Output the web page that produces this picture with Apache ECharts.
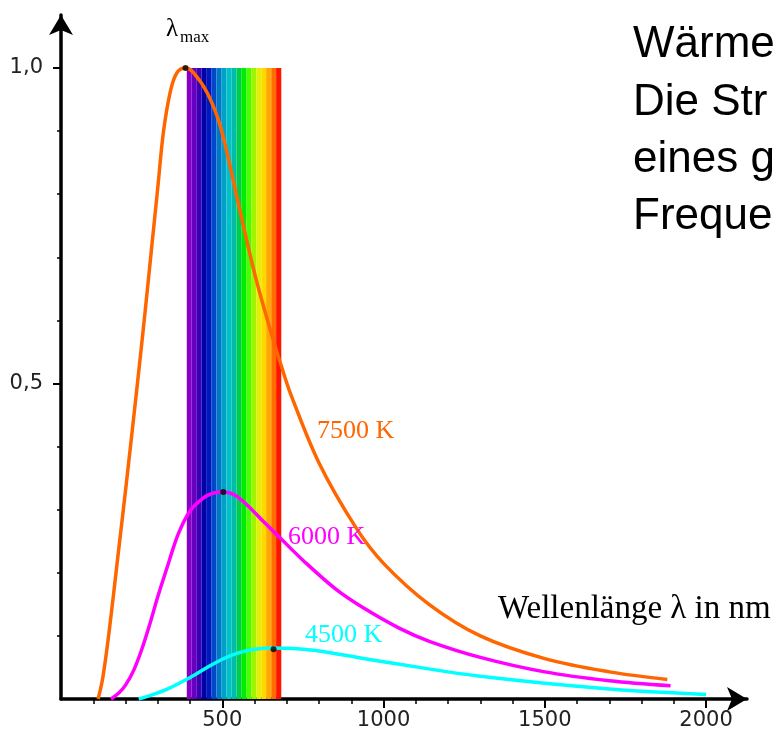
<!DOCTYPE html>
<html>
<head>
<meta charset="utf-8">
<script src="https://cdn.jsdelivr.net/npm/echarts@6/dist/echarts.min.js"></script>
<style>
html,body{margin:0;padding:0;background:#fff;}
#chart{width:779px;height:740px;}
</style>
</head>
<body>
<div id="chart"></div>
<script>
// ---- data ----
const lambda7500 = [115,130,150,175,200,237,260,280,300,318,340,360,386,410,454,495,550,600,650,683,713,800,914,1000,1141,1300,1500,1700,1880];
const int7500    = [0,0.035,0.11,0.22,0.33,0.50,0.61,0.71,0.81,0.90,0.965,0.993,1.0,0.993,0.96,0.906,0.785,0.675,0.583,0.528,0.482,0.374,0.272,0.215,0.150,0.100,0.064,0.043,0.031];

const lambda6000 = [155,180,200,225,250,275,300,330,364,400,440,470,503,540,580,630,676,750,850,936,1050,1144,1300,1500,1700,1890];
const int6000    = [0,0.01,0.022,0.045,0.078,0.118,0.162,0.21,0.262,0.298,0.318,0.326,0.328,0.323,0.306,0.28,0.257,0.22,0.175,0.145,0.112,0.091,0.066,0.043,0.029,0.021];

const lambda4500 = [241,280,331,393,450,500,550,600,659,720,800,929,1050,1200,1300,1500,1700,1850,2000];
const int4500    = [0,0.006,0.016,0.032,0.049,0.063,0.073,0.079,0.081,0.080,0.076,0.065,0.055,0.043,0.036,0.025,0.016,0.011,0.007];

const peakLambda = [386, 503, 659];
const peakValue  = [1.0, 0.328, 0.079];

// visible spectrum stripes (wavelength edges in nm) and their colours
const bandEdges  = [390,405,421,436,452,467,482,498,513,529,544,559,575,590,606,621,636,652,667,683];
const bandColors = ['#8800c8','#6600c0','#3c00b4','#0000a8','#0018c0','#0048c8','#0078c8','#00a0c8','#00c0c8','#00bca8','#00cc50','#00ec00','#48ff00','#a0f400','#e0f000','#ffd800','#ffa800','#ff6c00','#ff1400'];
const bandTop = 1.0;

const xMajorTicks = [500,1000,1500,2000];
const xMinorTicks = [100,200,300,400,600,700,800,900,1100,1200,1300,1400,1600,1700,1800,1900];
const yMajorTicks = [0.5,1.0];
const yMinorTicks = [0.1,0.2,0.3,0.4,0.6,0.7,0.8,0.9];

const xMax = 2127, yMax = 1.084;

// ---- build ----
const pairs = (xs, ys) => xs.map((x, i) => [x, ys[i]]);
const bandAreas = bandColors.map((c, i) => [
  { xAxis: bandEdges[i], yAxis: 0, itemStyle: { color: c } },
  { xAxis: bandEdges[i + 1], yAxis: bandTop }
]);

const serif = '"Liberation Serif", "DejaVu Serif", serif';
const sans = '"Liberation Sans", Arial, sans-serif';
const tickFont = '"DejaVu Sans", sans-serif';

const chart = echarts.init(document.getElementById('chart'), null, { renderer: 'canvas' });

const axisLineStyle = { color: '#000', width: 3.5 };

chart.setOption({
  backgroundColor: '#fff',
  animation: false,
  grid: { left: 61, right: 32, top: 15, bottom: 41, containLabel: false },
  xAxis: [
    {
      type: 'value', min: 0, max: xMax, position: 'bottom',
      axisLine: { show: true, onZero: false, lineStyle: axisLineStyle, symbol: ['none', 'arrow'], symbolSize: [18, 20] },
      axisTick: { show: true, customValues: xMajorTicks, length: 9, lineStyle: { color: '#000', width: 2 } },
      axisLabel: { show: true, customValues: xMajorTicks, margin: 11, color: '#222', fontFamily: tickFont, fontSize: 21,
        formatter: v => String(v) },
      splitLine: { show: false }
    },
    {
      type: 'value', min: 0, max: xMax, position: 'bottom', offset: 0,
      axisLine: { show: false, onZero: false },
      axisTick: { show: true, customValues: xMinorTicks, length: 5, lineStyle: { color: '#000', width: 1.5 } },
      axisLabel: { show: false },
      splitLine: { show: false }
    }
  ],
  yAxis: [
    {
      type: 'value', min: 0, max: yMax, position: 'left',
      axisLine: { show: true, onZero: false, lineStyle: axisLineStyle, symbol: ['none', 'arrow'], symbolSize: [18, 20] },
      axisTick: { show: true, customValues: yMajorTicks, length: 8, lineStyle: { color: '#000', width: 2 } },
      axisLabel: { show: true, customValues: yMajorTicks, margin: 18, color: '#222', fontFamily: tickFont, fontSize: 21,
        formatter: v => v.toFixed(1).replace('.', ',') },
      splitLine: { show: false }
    },
    {
      type: 'value', min: 0, max: yMax, position: 'left', offset: 0,
      axisLine: { show: false, onZero: false },
      axisTick: { show: true, customValues: yMinorTicks, length: 4, lineStyle: { color: '#000', width: 1.5 } },
      axisLabel: { show: false },
      splitLine: { show: false }
    }
  ],
  series: [
    {
      name: 'spectrum', type: 'line', data: [], z: 1, silent: true,
      markArea: { silent: true, data: bandAreas, itemStyle: { opacity: 1 } }
    },
    {
      name: '7500 K', type: 'line', data: pairs(lambda7500, int7500), z: 3,
      smooth: 0.35, showSymbol: false, symbol: 'none',
      lineStyle: { color: '#ff6600', width: 3.5 }
    },
    {
      name: '6000 K', type: 'line', data: pairs(lambda6000, int6000), z: 3,
      smooth: 0.35, showSymbol: false, symbol: 'none',
      lineStyle: { color: '#ff00ff', width: 3.5 }
    },
    {
      name: '4500 K', type: 'line', data: pairs(lambda4500, int4500), z: 3,
      smooth: 0.35, showSymbol: false, symbol: 'none',
      lineStyle: { color: '#00ffff', width: 3.5 }
    },
    {
      name: 'peaks', type: 'scatter', data: pairs(peakLambda, peakValue), z: 5,
      symbolSize: 6, itemStyle: { color: '#000' }
    }
  ],
  graphic: [
    { type: 'text', x: 166, y: 29, z: 10, style: { text: 'λ', fill: '#000', fontSize: 25, fontFamily: serif, verticalAlign: 'middle', textVerticalAlign: 'middle' } },
    { type: 'text', x: 180, y: 38, z: 10, style: { text: 'max', fill: '#000', fontSize: 17, fontFamily: serif, verticalAlign: 'middle', textVerticalAlign: 'middle' } },
    { type: 'text', x: 317, y: 431, z: 10, style: { text: '7500 K', fill: '#ff6600', fontSize: 26, fontFamily: serif, verticalAlign: 'middle', textVerticalAlign: 'middle' } },
    { type: 'text', x: 288, y: 537, z: 10, style: { text: '6000 K', fill: '#ff00ff', fontSize: 26, fontFamily: serif, verticalAlign: 'middle', textVerticalAlign: 'middle' } },
    { type: 'text', x: 305, y: 635, z: 10, style: { text: '4500 K', fill: '#00ffff', fontSize: 26, fontFamily: serif, verticalAlign: 'middle', textVerticalAlign: 'middle' } },
    { type: 'text', x: 498, y: 609, z: 10, style: { text: 'Wellenlänge λ in nm', fill: '#000', fontSize: 33, fontFamily: serif, verticalAlign: 'middle', textVerticalAlign: 'middle' } },
    { type: 'text', x: 633, y: 45, z: 10, style: { text: 'Wärme', fill: '#000', fontSize: 44, fontFamily: sans, verticalAlign: 'middle', textVerticalAlign: 'middle' } },
    { type: 'text', x: 633, y: 103, z: 10, style: { text: 'Die Str', fill: '#000', fontSize: 44, fontFamily: sans, verticalAlign: 'middle', textVerticalAlign: 'middle' } },
    { type: 'text', x: 633, y: 160, z: 10, style: { text: 'eines g', fill: '#000', fontSize: 44, fontFamily: sans, verticalAlign: 'middle', textVerticalAlign: 'middle' } },
    { type: 'text', x: 633, y: 217, z: 10, style: { text: 'Freque', fill: '#000', fontSize: 44, fontFamily: sans, verticalAlign: 'middle', textVerticalAlign: 'middle' } }
  ]
});
</script>
</body>
</html>
